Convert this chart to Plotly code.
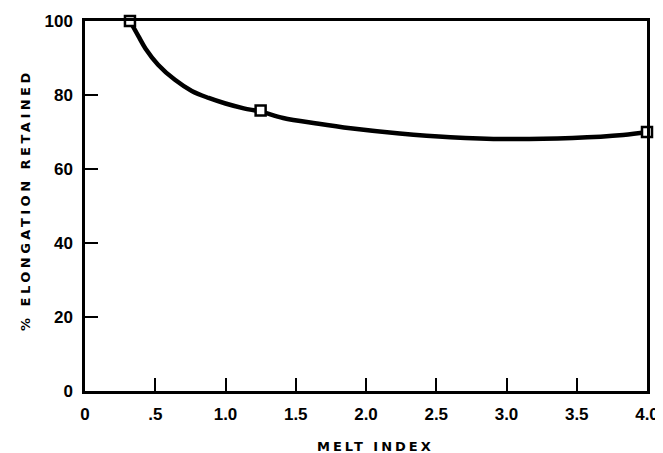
import plotly.graph_objects as go

# Curve (MELT INDEX vs % ELONGATION RETAINED)
curve_x = [0.32, 0.38, 0.43, 0.52, 0.64, 0.76, 0.88, 1.0, 1.13, 1.25, 1.41, 1.65, 1.89, 2.24, 2.6, 3.0, 3.47, 3.83, 4.0]
curve_y = [100, 95.9, 92.6, 88.2, 84.1, 81.1, 79.2, 77.7, 76.4, 75.5, 73.8, 72.3, 71.0, 69.6, 68.6, 68.1, 68.4, 69.2, 70]

# Measured data points (open squares)
point_x = [0.32, 1.25, 4.0]
point_y = [100, 75.8, 70]

x_tickvals = [0, 0.5, 1.0, 1.5, 2.0, 2.5, 3.0, 3.5, 4.0]
x_ticktext = ["0", ".5", "1.0", "1.5", "2.0", "2.5", "3.0", "3.5", "4.0"]
y_tickvals = [0, 20, 40, 60, 80, 100]
y_ticktext = ["0", "20", "40", "60", "80", "100"]

FONT = "Liberation Sans"

fig = go.Figure()
fig.add_trace(go.Scatter(
    x=curve_x, y=curve_y, mode="lines",
    line=dict(color="black", width=4.5, shape="spline", smoothing=1.0),
    showlegend=False, hoverinfo="skip",
))
fig.add_trace(go.Scatter(
    x=point_x, y=point_y, mode="markers",
    marker=dict(symbol="square", size=10, color="white",
                line=dict(color="black", width=2.5)),
    showlegend=False, cliponaxis=False,
))

axis_common = dict(
    showline=True, linecolor="black", linewidth=2.5, mirror=True,
    showgrid=False, zeroline=False, automargin=False,
    ticks="inside", ticklen=13, tickwidth=2, tickcolor="black",
    tickfont=dict(family=FONT, size=17, color="black", weight="bold"),
    ticklabelstandoff=6,
)

# The page body adds an 8px offset; plot area lands at x 85..647, y 21..391 in the window
fig.update_layout(
    width=655, height=445,
    margin=dict(l=77, r=16, t=13, b=62),
    paper_bgcolor="white", plot_bgcolor="white",
    xaxis=dict(range=[0, 4.0], tickmode="array", tickvals=x_tickvals,
               ticktext=x_ticktext, **axis_common),
    yaxis=dict(range=[0, 100], tickmode="array", tickvals=y_tickvals,
               ticktext=y_ticktext, **axis_common),
    annotations=[
        dict(text='<span style="letter-spacing:3px"><b>MELT INDEX</b></span>',
             xref="paper", yref="paper",
             x=(375 - 85) / (647 - 85), y=-(446 - 391) / (391 - 21),
             xanchor="center", yanchor="middle", showarrow=False,
             font=dict(family="DejaVu Sans", size=13, color="black")),
        dict(text='<span style="letter-spacing:3.5px"><b>% ELONGATION RETAINED</b></span>',
             xref="paper", yref="paper",
             x=-(85 - 25) / (647 - 85), y=(391 - 200) / (391 - 21),
             xanchor="center", yanchor="middle", showarrow=False, textangle=-90,
             font=dict(family="DejaVu Sans", size=13, color="black")),
    ],
)

fig.write_html("out.html")
